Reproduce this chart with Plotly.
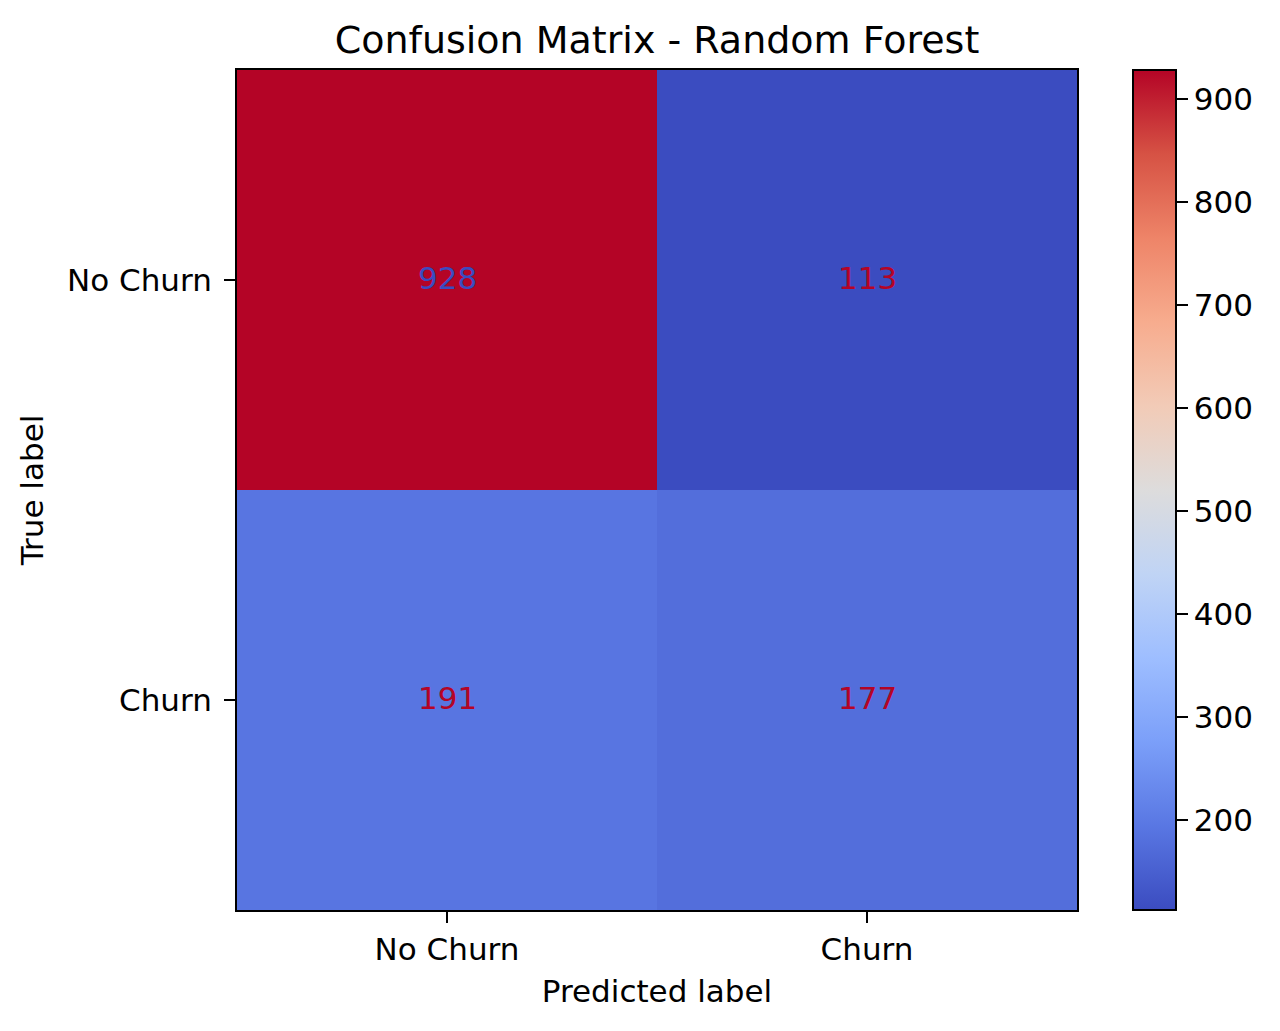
"""
Confusion matrix heatmap for the Random Forest churn model.
"""

import plotly.graph_objects as go

CLASS_LABELS = ["No Churn", "Churn"]
# rows = true label, columns = predicted label
CONF_MATRIX = [
    [928, 113],
    [191, 177],
]
COLORBAR_TICKS = [200, 300, 400, 500, 600, 700, 800, 900]

# matplotlib "coolwarm" sampled at 11 points
COOLWARM = [
    [0.0, "#3b4cc0"],
    [0.1, "#5977e3"],
    [0.2, "#7b9ff9"],
    [0.3, "#9ebeff"],
    [0.4, "#c0d4f5"],
    [0.5, "#dddcdc"],
    [0.6, "#f2cbb7"],
    [0.7, "#f7ac8e"],
    [0.8, "#ee8468"],
    [0.9, "#d65244"],
    [1.0, "#b40426"],
]
LOW_COLOR = "#3b4cc0"
HIGH_COLOR = "#b40426"

FONT = "DejaVu Sans"
LABEL_SIZE = 31
TITLE_SIZE = 38

# the page body adds an 8px offset, so margins are shifted to compensate
PAGE_OFFSET = 8

flat = [v for row in CONF_MATRIX for v in row]
zmin, zmax = min(flat), max(flat)
thresh = (zmin + zmax) / 2

fig = go.Figure()

fig.add_trace(
    go.Heatmap(
        z=CONF_MATRIX,
        x=CLASS_LABELS,
        y=CLASS_LABELS,
        colorscale=COOLWARM,
        zmin=zmin,
        zmax=zmax,
        hovertemplate="True: %{y}<br>Predicted: %{x}<br>Count: %{z}<extra></extra>",
        colorbar={
            "x": 1.0667,
            "xanchor": "left",
            "xref": "paper",
            "y": 0.5,
            "yanchor": "middle",
            "len": 1.0,
            "lenmode": "fraction",
            "thickness": 43,
            "thicknessmode": "pixels",
            "outlinewidth": 2,
            "outlinecolor": "black",
            "tickvals": COLORBAR_TICKS,
            "ticks": "outside",
            "ticklen": 11,
            "tickwidth": 2,
            "tickcolor": "black",
            "tickfont": {"size": LABEL_SIZE, "color": "black", "family": FONT},
            "ypad": 0,
            "xpad": 0,
        },
    )
)

# cell counts, coloured like sklearn's ConfusionMatrixDisplay
for i, true_lbl in enumerate(CLASS_LABELS):
    for j, pred_lbl in enumerate(CLASS_LABELS):
        val = CONF_MATRIX[i][j]
        fig.add_annotation(
            x=pred_lbl,
            y=true_lbl,
            text=str(val),
            showarrow=False,
            yshift=2,
            font={
                "size": LABEL_SIZE,
                "color": LOW_COLOR if val > thresh else HIGH_COLOR,
                "family": FONT,
            },
        )

axis_common = {
    "showgrid": False,
    "zeroline": False,
    "showline": True,
    "linecolor": "black",
    "linewidth": 2,
    "mirror": True,
    "ticks": "outside",
    "ticklen": 11,
    "tickwidth": 2,
    "tickcolor": "black",
    "tickfont": {"size": LABEL_SIZE, "color": "black", "family": FONT},
}

fig.update_layout(
    width=1280,
    height=1031,
    plot_bgcolor="white",
    paper_bgcolor="white",
    font={"family": FONT, "color": "black"},
    margin={
        "l": 237 - PAGE_OFFSET,
        "r": 203 + PAGE_OFFSET,
        "t": 70 - PAGE_OFFSET,
        "b": 121 + PAGE_OFFSET,
    },
    title={
        "text": "Confusion Matrix - Random Forest",
        "x": ((237 + 1077) / 2 - PAGE_OFFSET) / 1280,
        "xanchor": "center",
        "y": 1 - (40 - PAGE_OFFSET) / 1031,
        "yanchor": "middle",
        "yref": "container",
        "font": {"size": TITLE_SIZE, "color": "black", "family": FONT},
    },
    xaxis={
        **axis_common,
        "ticklabelstandoff": 0,
        "title": {"text": "Predicted label", "font": {"size": LABEL_SIZE}, "standoff": 14},
    },
    yaxis={
        **axis_common,
        "ticklabelstandoff": 6,
        "autorange": "reversed",
        "title": {"text": "True label", "font": {"size": LABEL_SIZE}, "standoff": 14},
    },
)

fig.write_html("out.html")
